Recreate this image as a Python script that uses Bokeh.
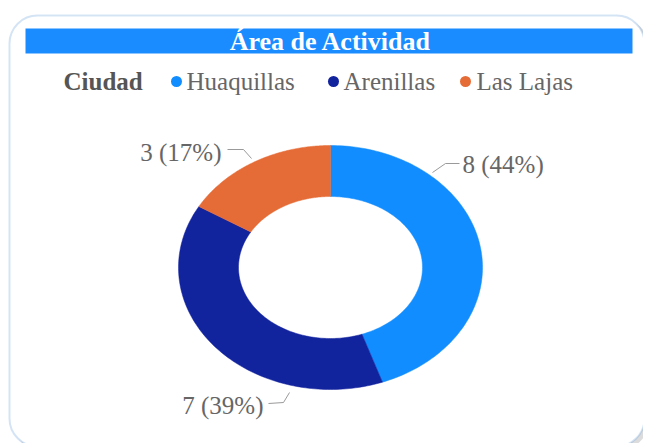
import numpy as np
from bokeh.plotting import figure
from bokeh.models import Range1d, BoxAnnotation, ColumnDataSource
from bokeh.core.properties import value
from bokeh.embed import file_html
from bokeh.resources import INLINE

# ---- data ----
title = "Área de Actividad"
legend_title = "Ciudad"
categories = ["Huaquillas", "Arenillas", "Las Lajas"]
counts = [8, 7, 3]
colors = ["#118DFF", "#12239E", "#E66C37"]

total = sum(counts)
labels = [f"{v} ({round(100 * v / total)}%)" for v in counts]

# ---- layout (pixel-like data coordinates) ----
W, H = 643, 443
p = figure(width=W, height=H, x_range=Range1d(0, W), y_range=Range1d(H, 0),
           output_backend="svg", toolbar_location=None, min_border=0,
           x_axis_type=None, y_axis_type=None)
p.grid.visible = False
p.outline_line_color = None
p.background_fill_color = "white"
p.border_fill_color = "white"

# card shadow + card
p.add_layout(BoxAnnotation(left=12, right=648, top=18, bottom=449, border_radius=28,
                           fill_color="#9a9a9a", fill_alpha=0.35, line_color=None,
                           level="underlay"))
p.add_layout(BoxAnnotation(left=9, right=644, top=15, bottom=446, border_radius=28,
                           fill_color="white", fill_alpha=1.0, line_color="#6FA6DD",
                           line_width=2, level="underlay"))

# title bar
p.quad(left=[25], right=[632], top=[28], bottom=[53], fill_color="#1A8CFF", line_color=None)
p.text(x=[330], y=[41], text=[title], text_font=value("Liberation Serif"),
       text_font_size=value("26px"), text_font_style="bold", text_color="white",
       text_align="center", text_baseline="middle")

# legend
p.text(x=[63], y=[81], text=[legend_title], text_font=value("Liberation Serif"),
       text_font_size=value("25px"), text_font_style="bold", text_color="#555555",
       text_align="left", text_baseline="middle")
leg_dot_x = [176, 333, 465]
leg_txt_x = [186, 343, 476]
p.scatter(x=leg_dot_x, y=[81] * 3, size=11, marker="circle", fill_color=colors, line_color=None)
p.text(x=leg_txt_x, y=[81] * 3, text=categories, text_font=value("Liberation Serif"),
       text_font_size=value("25px"), text_color="#666666",
       text_align="left", text_baseline="middle")

# donut (elliptical, clockwise from top)
cx, cy = 330, 267
rxo, ryo, rxi, ryi = 152, 122, 92, 71
cum = np.concatenate([[0], np.cumsum(counts)]) / total * 2 * np.pi
xs, ys = [], []
for a0, a1 in zip(cum[:-1], cum[1:]):
    t = np.linspace(a0, a1, 120)
    ox, oy = cx + rxo * np.sin(t), cy - ryo * np.cos(t)
    ix, iy = cx + rxi * np.sin(t[::-1]), cy - ryi * np.cos(t[::-1])
    xs.append(list(np.concatenate([ox, ix])))
    ys.append(list(np.concatenate([oy, iy])))
p.patches(xs=xs, ys=ys, fill_color=colors, line_color=colors, line_width=0.5)

# data labels with leader lines
lab_x = [462, 263, 221]
lab_y = [164, 405, 152]
lab_align = ["left", "right", "right"]
lead_x = [[432, 445, 459], [289, 283, 268], [251, 243, 227]]
lead_y = [[172, 163, 163], [392, 402, 403], [158, 149, 149]]
p.multi_line(xs=lead_x, ys=lead_y, line_color="#9A9A9A", line_width=1)
src = ColumnDataSource(dict(x=lab_x, y=lab_y, t=labels, a=lab_align))
p.text(x="x", y="y", text="t", text_align="a", source=src,
       text_font=value("Liberation Serif"), text_font_size=value("25px"),
       text_color="#666666", text_baseline="middle")

open("out.html", "w").write(file_html(p, INLINE))
